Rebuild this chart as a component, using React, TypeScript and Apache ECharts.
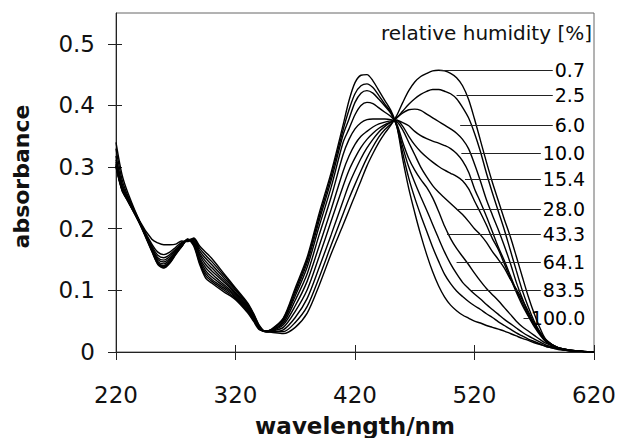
import { useEffect, useRef } from "react";
import * as echarts from "echarts";

const wavelengths = [
  220, 225, 230, 240, 250, 255, 260, 265, 270, 275, 280, 285, 290, 295, 300,
  310, 320, 330, 335, 340, 345, 350, 360, 370, 380, 390, 400, 410,
  415, 420, 425, 430, 435, 440, 445, 450, 455, 460, 465, 470, 475, 480, 485,
  490, 495, 500, 505, 510, 515, 520, 525, 530, 535, 540, 545, 550, 555, 560,
  565, 570, 575, 580, 590, 600, 610, 620,
];

const humidityLabels = ["0.7", "2.5", "6.0", "10.0", "15.4", "28.0", "43.3", "64.1", "83.5", "100.0"];

const rh0_7 = [
  0.340, 0.288, 0.258, 0.212, 0.183, 0.177, 0.174, 0.174, 0.175, 0.180, 0.179, 0.185, 0.172, 0.162, 0.152,
  0.128, 0.104, 0.080, 0.063, 0.043, 0.033, 0.032, 0.030, 0.040, 0.063, 0.108, 0.159, 0.206,
  0.230, 0.254, 0.278, 0.302, 0.322, 0.340, 0.355, 0.368, 0.384, 0.405, 0.424, 0.438, 0.447, 0.452, 0.456,
  0.457, 0.456, 0.452, 0.445, 0.432, 0.410, 0.378, 0.343, 0.308, 0.275, 0.245, 0.215, 0.187, 0.155, 0.122,
  0.090, 0.062, 0.038, 0.020, 0.007, 0.003, 0.001, 0.000,
];
const rh2_5 = [
  0.330, 0.280, 0.253, 0.211, 0.175, 0.162, 0.158, 0.162, 0.170, 0.178, 0.181, 0.184, 0.168, 0.157, 0.147,
  0.125, 0.102, 0.078, 0.062, 0.042, 0.033, 0.033, 0.033, 0.048, 0.074, 0.121, 0.173, 0.224,
  0.249, 0.272, 0.294, 0.315, 0.333, 0.349, 0.361, 0.370, 0.380, 0.391, 0.402, 0.411, 0.418, 0.423, 0.426,
  0.426, 0.423, 0.419, 0.411, 0.397, 0.380, 0.355, 0.325, 0.290, 0.258, 0.228, 0.198, 0.165, 0.132, 0.100,
  0.073, 0.050, 0.032, 0.019, 0.007, 0.003, 0.001, 0.000,
];
const rh6_0 = [
  0.318, 0.274, 0.250, 0.211, 0.172, 0.157, 0.153, 0.158, 0.167, 0.176, 0.182, 0.183, 0.164, 0.152, 0.142,
  0.121, 0.100, 0.077, 0.060, 0.041, 0.033, 0.033, 0.036, 0.056, 0.087, 0.137, 0.190, 0.245,
  0.272, 0.294, 0.314, 0.331, 0.345, 0.357, 0.366, 0.373, 0.380, 0.388, 0.393, 0.394, 0.392, 0.386, 0.380,
  0.374, 0.368, 0.362, 0.355, 0.345, 0.330, 0.305, 0.277, 0.247, 0.222, 0.198, 0.172, 0.144, 0.113, 0.087,
  0.063, 0.045, 0.030, 0.018, 0.007, 0.003, 0.001, 0.000,
];
const rh10_0 = [
  0.312, 0.270, 0.249, 0.210, 0.170, 0.153, 0.149, 0.155, 0.165, 0.175, 0.182, 0.181, 0.160, 0.147, 0.137,
  0.117, 0.097, 0.075, 0.059, 0.040, 0.033, 0.034, 0.040, 0.066, 0.101, 0.155, 0.212, 0.269,
  0.295, 0.315, 0.332, 0.345, 0.355, 0.363, 0.369, 0.373, 0.376, 0.372, 0.367, 0.358, 0.351, 0.346, 0.342,
  0.339, 0.335, 0.330, 0.322, 0.310, 0.292, 0.265, 0.243, 0.220, 0.195, 0.170, 0.148, 0.124, 0.100, 0.080,
  0.060, 0.043, 0.029, 0.017, 0.006, 0.002, 0.001, 0.000,
];
const rh15_4 = [
  0.308, 0.268, 0.248, 0.210, 0.168, 0.150, 0.146, 0.152, 0.163, 0.174, 0.182, 0.179, 0.157, 0.142, 0.132,
  0.114, 0.095, 0.073, 0.058, 0.040, 0.033, 0.034, 0.044, 0.075, 0.115, 0.172, 0.231, 0.293,
  0.318, 0.337, 0.350, 0.358, 0.365, 0.370, 0.373, 0.375, 0.376, 0.366, 0.350, 0.336, 0.325, 0.316, 0.308,
  0.301, 0.295, 0.290, 0.285, 0.278, 0.265, 0.245, 0.226, 0.206, 0.184, 0.166, 0.143, 0.120, 0.097, 0.076,
  0.058, 0.041, 0.027, 0.016, 0.006, 0.002, 0.001, 0.000,
];
const rh28_0 = [
  0.305, 0.266, 0.247, 0.209, 0.167, 0.147, 0.143, 0.150, 0.162, 0.173, 0.182, 0.178, 0.153, 0.137, 0.127,
  0.110, 0.093, 0.071, 0.056, 0.039, 0.034, 0.035, 0.047, 0.084, 0.127, 0.190, 0.251, 0.320,
  0.345, 0.362, 0.372, 0.377, 0.378, 0.378, 0.378, 0.377, 0.374, 0.360, 0.340, 0.320, 0.300, 0.284, 0.270,
  0.259, 0.250, 0.241, 0.232, 0.223, 0.212, 0.200, 0.190, 0.178, 0.163, 0.150, 0.136, 0.118, 0.102, 0.085,
  0.066, 0.047, 0.031, 0.018, 0.006, 0.002, 0.001, 0.000,
];
const rh43_3 = [
  0.303, 0.265, 0.246, 0.209, 0.166, 0.145, 0.140, 0.148, 0.161, 0.172, 0.182, 0.176, 0.150, 0.132, 0.122,
  0.107, 0.091, 0.069, 0.055, 0.038, 0.034, 0.035, 0.050, 0.091, 0.138, 0.204, 0.267, 0.340,
  0.362, 0.385, 0.400, 0.405, 0.403, 0.396, 0.389, 0.382, 0.370, 0.340, 0.314, 0.295, 0.280, 0.267, 0.250,
  0.228, 0.204, 0.184, 0.168, 0.155, 0.142, 0.128, 0.115, 0.103, 0.093, 0.083, 0.072, 0.061, 0.050, 0.041,
  0.034, 0.027, 0.020, 0.014, 0.007, 0.003, 0.001, 0.000,
];
const rh64_1 = [
  0.302, 0.264, 0.245, 0.208, 0.165, 0.144, 0.138, 0.146, 0.160, 0.172, 0.183, 0.175, 0.147, 0.128, 0.118,
  0.104, 0.089, 0.067, 0.053, 0.037, 0.034, 0.036, 0.052, 0.096, 0.145, 0.213, 0.278, 0.352,
  0.378, 0.405, 0.420, 0.424, 0.420, 0.410, 0.399, 0.387, 0.367, 0.332, 0.300, 0.275, 0.252, 0.230, 0.207,
  0.184, 0.162, 0.143, 0.127, 0.113, 0.103, 0.094, 0.086, 0.077, 0.069, 0.061, 0.053, 0.046, 0.039, 0.032,
  0.026, 0.021, 0.016, 0.011, 0.006, 0.003, 0.001, 0.000,
];
const rh83_5 = [
  0.301, 0.263, 0.245, 0.208, 0.164, 0.143, 0.137, 0.145, 0.159, 0.171, 0.183, 0.174, 0.145, 0.124, 0.115,
  0.101, 0.087, 0.066, 0.052, 0.037, 0.034, 0.036, 0.054, 0.100, 0.150, 0.219, 0.285, 0.360,
  0.393, 0.419, 0.432, 0.435, 0.429, 0.416, 0.402, 0.389, 0.366, 0.322, 0.282, 0.250, 0.222, 0.196, 0.170,
  0.147, 0.126, 0.111, 0.099, 0.090, 0.082, 0.075, 0.069, 0.062, 0.056, 0.049, 0.043, 0.037, 0.031, 0.026,
  0.021, 0.017, 0.013, 0.009, 0.005, 0.002, 0.001, 0.000,
];
const rh100_0 = [
  0.300, 0.262, 0.244, 0.207, 0.163, 0.142, 0.136, 0.144, 0.158, 0.171, 0.183, 0.172, 0.142, 0.120, 0.112,
  0.098, 0.085, 0.064, 0.050, 0.036, 0.034, 0.037, 0.055, 0.104, 0.154, 0.225, 0.291, 0.368,
  0.408, 0.437, 0.449, 0.450, 0.440, 0.424, 0.408, 0.392, 0.366, 0.312, 0.265, 0.226, 0.190, 0.158, 0.130,
  0.107, 0.089, 0.076, 0.067, 0.060, 0.055, 0.050, 0.047, 0.043, 0.040, 0.037, 0.034, 0.030, 0.026, 0.022,
  0.019, 0.015, 0.012, 0.009, 0.004, 0.002, 0.001, 0.000,
];

const curves = [rh0_7, rh2_5, rh6_0, rh10_0, rh15_4, rh28_0, rh43_3, rh64_1, rh83_5, rh100_0];

// leader lines to the humidity labels (absorbance level, start and end wavelength)
const leaderAbs = [0.457, 0.4165, 0.368, 0.3225, 0.280, 0.232, 0.191, 0.146, 0.100, 0.055];
const leaderStartNm = [491, 505, 508, 509, 512, 505, 497, 505, 517, 561];
const leaderEndNm = [585.5, 585.5, 585.5, 575.5, 575.5, 575.5, 575.5, 575.5, 575.5, 565.5];

const xTicks = [220, 320, 420, 520, 620];
const yTicks = [0, 0.1, 0.2, 0.3, 0.4, 0.5];

const FONT = "'DejaVu Sans', 'Liberation Sans', sans-serif";

export default function App() {
  const ref = useRef<HTMLDivElement>(null);

  useEffect(() => {
    document.body.style.margin = "0";
    const chart = echarts.init(ref.current!, null, { renderer: "svg" });

    const series = curves.map((vals, i) => ({
      type: "line",
      name: humidityLabels[i],
      xAxisIndex: 0,
      yAxisIndex: 0,
      data: wavelengths.map((w, j) => [w, vals[j]]),
      showSymbol: false,
      symbol: "none",
      smooth: 0.3,
      silent: true,
      lineStyle: { color: "#000", width: 1.4 },
      markLine: {
        symbol: ["none", "none"],
        silent: true,
        lineStyle: { color: "#222", width: 1, type: "solid" },
        label: {
          show: true,
          position: "end",
          distance: 2,
          formatter: humidityLabels[i],
          color: "#000",
          fontSize: 19,
          fontFamily: FONT,
        },
        data: [
          [
            { coord: [leaderStartNm[i], leaderAbs[i]] },
            { coord: [leaderEndNm[i], leaderAbs[i]] },
          ],
        ],
      },
    }));

    const axisLineStyle = { color: "#222", width: 1 };

    chart.setOption({
      animation: false,
      backgroundColor: "#fff",
      grid: {
        left: 116,
        right: 24,
        top: 13,
        bottom: 86,
        show: true,
        borderColor: "#666",
        borderWidth: 1,
        containLabel: false,
        outerBoundsMode: "none",
      },
      xAxis: [
        {
          type: "value",
          min: 220,
          max: 620,
          interval: 100,
          position: "bottom",
          axisLine: { show: true, onZero: false, lineStyle: axisLineStyle },
          axisTick: { show: true, inside: false, length: 8, lineStyle: axisLineStyle, customValues: xTicks },
          axisLabel: { margin: 31, fontSize: 23, fontFamily: FONT, color: "#111", customValues: xTicks },
          splitLine: { show: false },
          name: "wavelength/nm",
          nameLocation: "middle",
          nameGap: 62,
          nameTextStyle: { fontSize: 23, fontWeight: "bold", fontFamily: FONT, color: "#111" },
        },
        {
          type: "value",
          min: 220,
          max: 620,
          interval: 100,
          position: "bottom",
          axisLine: { show: false },
          axisTick: { show: true, inside: true, length: 7, lineStyle: axisLineStyle, customValues: xTicks },
          axisLabel: { show: false },
          splitLine: { show: false },
        },
      ],
      yAxis: [
        {
          type: "value",
          min: 0,
          max: 0.55,
          interval: 0.1,
          position: "left",
          axisLine: { show: true, onZero: false, lineStyle: axisLineStyle },
          axisTick: { show: true, inside: false, length: 8, lineStyle: axisLineStyle, customValues: yTicks },
          axisLabel: {
            margin: 21,
            fontSize: 23,
            fontFamily: FONT,
            color: "#111",
            customValues: yTicks,
          },
          splitLine: { show: false },
          name: "absorbance",
          nameLocation: "middle",
          nameRotate: 90,
          nameGap: 84,
          nameTextStyle: {
            fontSize: 22,
            fontWeight: "bold",
            fontFamily: FONT,
            color: "#111",
            padding: [0, 0, 0, 12],
          },
        },
        {
          type: "value",
          min: 0,
          max: 0.55,
          interval: 0.1,
          position: "left",
          axisLine: { show: false },
          axisTick: { show: true, inside: true, length: 6, lineStyle: axisLineStyle, customValues: yTicks },
          axisLabel: { show: false },
          splitLine: { show: false },
        },
      ],
      graphic: [
        {
          type: "text",
          x: 592,
          y: 33,
          style: {
            text: "relative humidity [%]",
            fill: "#111",
            fontSize: 20,
            fontFamily: FONT,
            align: "right",
            verticalAlign: "middle",
          },
        },
      ],
      series,
    });

    return () => chart.dispose();
  }, []);

  return (
    <div
      ref={ref}
      style={{ position: "absolute", left: 0, top: 0, width: 618, height: 438 }}
    />
  );
}
